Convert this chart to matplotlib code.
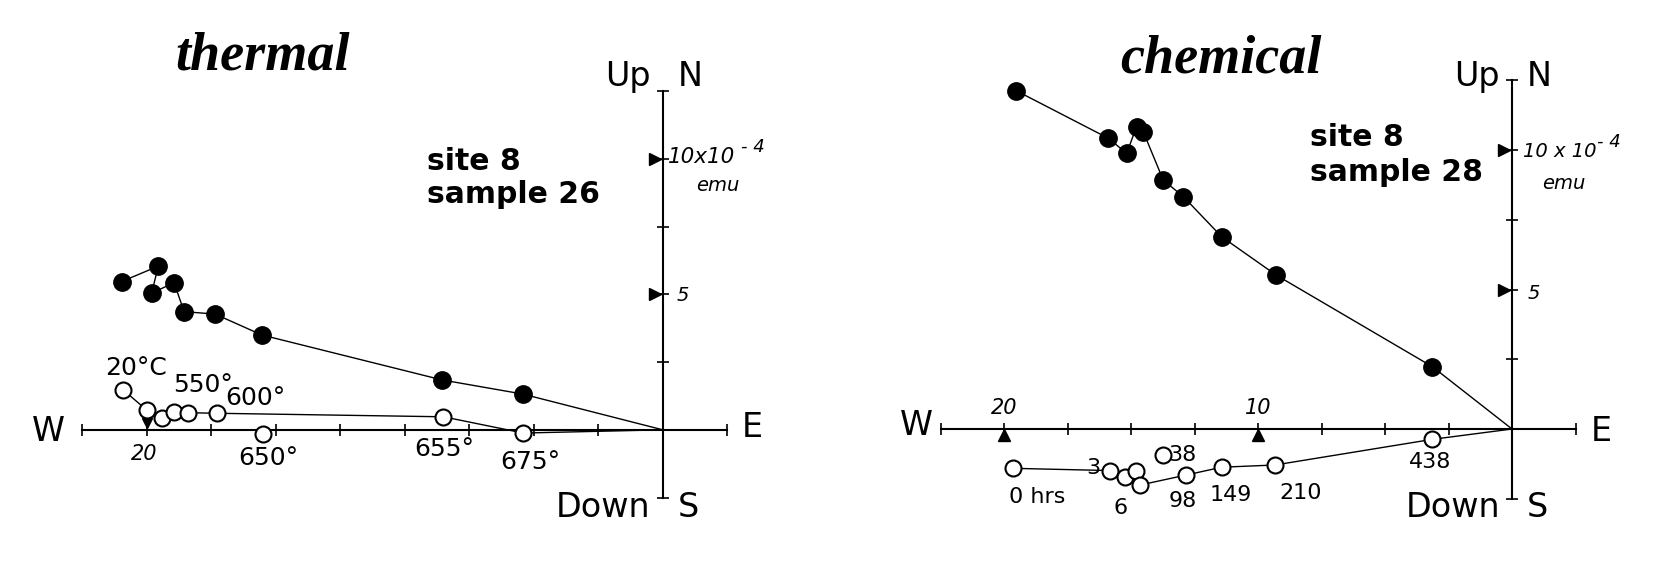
import matplotlib
matplotlib.use("Agg")
import matplotlib.pyplot as plt
import numpy as np

# ---------------- data (units of 1e-4 emu; x = E(+)/W(-), y = Up/N(+) , Down/S(-)) -------------
thermal_filled_x = [-20.97, -19.55, -19.81, -18.94, -18.55, -17.35, -15.54, -8.55, -5.43]
thermal_filled_y = [5.47, 6.04, 5.04, 5.43, 4.36, 4.27, 3.50, 1.84, 1.32]
thermal_open_x = [-20.91, -20.00, -19.42, -18.94, -18.39, -17.29, -15.48, -8.50, -5.40]
thermal_open_y = [1.47, 0.73, 0.42, 0.67, 0.63, 0.61, -0.15, 0.48, -0.12]
thermal_open_path = [0, 1, 2, 3, 4, 5, 7, 8]
thermal_temp_labels = ["20°C", "550°", "600°", "650°", "655°", "675°"]

chem_filled_x = [-19.53, -15.89, -15.17, -14.78, -14.52, -13.73, -12.94, -11.43, -9.29, -3.13]
chem_filled_y = [12.13, 10.42, 9.88, 10.84, 10.66, 8.92, 8.33, 6.89, 5.52, 2.23]
chem_open_x = [-19.63, -15.83, -15.24, -14.80, -14.65, -13.73, -12.83, -11.43, -9.33, -3.13]
chem_open_y = [-1.41, -1.49, -1.73, -1.51, -2.01, -0.93, -1.65, -1.37, -1.29, -0.37]
chem_open_path = [0, 1, 2, 3, 4, 6, 7, 8, 9]
chem_hour_labels = ["0 hrs", "3", "6", "38", "98", "149", "210", "438"]

x_ticks = np.arange(-22.5, 2.6, 2.5)
y_ticks = np.arange(-2.5, 12.6, 2.5)
scale_marks = [5, 10]

# ---------------- layout ----------------
W, H = 1676, 574
XLIM = (-25, 5)
YLIM = (-5, 15)
fig = plt.figure(figsize=(W / 100, H / 100), dpi=100)
fig.patch.set_facecolor("white")


def panel(ox, oy, sx, sy):
    left = ox + XLIM[0] * sx
    width = (XLIM[1] - XLIM[0]) * sx
    bottom_px = oy - YLIM[0] * sy
    height = (YLIM[1] - YLIM[0]) * sy
    ax = fig.add_axes([left / W, 1 - bottom_px / H, width / W, height / H])
    ax.set_xlim(XLIM)
    ax.set_ylim(YLIM)
    ax.axis("off")
    ax.patch.set_alpha(0)
    return ax


SANS = "DejaVu Sans"
TITLE_FONT = dict(family="Liberation Serif", weight="bold", style="italic", size=39)


def draw_axes(ax, up_y, down_y, w_pos, e_pos):
    ax.plot([x_ticks[0], x_ticks[-1]], [0, 0], color="k", lw=1.5, zorder=1)
    ax.plot([0, 0], [y_ticks[0], y_ticks[-1]], color="k", lw=1.5, zorder=1)
    ax.plot(x_ticks, np.zeros_like(x_ticks), "|", color="k", ms=9, mew=1.2, zorder=1)
    ax.plot(np.zeros_like(y_ticks), y_ticks, "_", color="k", ms=9, mew=1.2, zorder=1)
    # scale arrows on vertical axis
    ax.plot([-0.3] * len(scale_marks), scale_marks, ">", color="k", ms=8, zorder=2)
    ax.text(-0.47, up_y, "Up", ha="right", va="baseline", family=SANS, size=24)
    ax.text(0.6, up_y, "N", ha="left", va="baseline", family=SANS, size=24)
    ax.text(-0.47, down_y, "Down", ha="right", va="baseline", family=SANS, size=24)
    ax.text(0.6, down_y, "S", ha="left", va="baseline", family=SANS, size=24)
    ax.text(w_pos[0], w_pos[1], "W", ha="center", va="center", family=SANS, size=24)
    ax.text(e_pos[0], e_pos[1], "E", ha="center", va="center", family=SANS, size=24)


def draw_series(ax, fx, fy, ox_, oy_, open_path):
    ax.plot(list(fx) + [0], list(fy) + [0], color="k", lw=1.0, zorder=3)
    px = [ox_[i] for i in open_path] + [0]
    py = [oy_[i] for i in open_path] + [0]
    ax.plot(px, py, color="k", lw=1.0, zorder=3)
    ax.plot(fx, fy, "o", color="k", ms=12.5, zorder=4)
    ax.plot(ox_, oy_, "o", mfc="white", mec="k", mew=1.5, ms=11.5, zorder=5)


# ================= thermal =================
ax1 = panel(662.7, 429.8, 25.8, 27.1)
draw_axes(ax1, 12.68, -3.2, (-23.8, -0.08), (3.46, 0.07))
draw_series(ax1, thermal_filled_x, thermal_filled_y, thermal_open_x, thermal_open_y,
            thermal_open_path)
ax1.plot([-20], [0.25], "v", color="k", ms=7, zorder=2)
ax1.text(-15.49, 13.28, "thermal", ha="center", va="baseline", **TITLE_FONT)
ax1.text(-9.14, 10.44, "site 8", ha="left", va="top", family=SANS, weight="bold", size=21.5)
ax1.text(-9.14, 9.21, "sample 26", ha="left", va="top", family=SANS, weight="bold", size=21.5)
ax1.text(0.2, 10.05, "10x10", ha="left", va="center", family=SANS, style="italic", size=15.5)
ax1.text(3.05, 10.45, "- 4", ha="left", va="center", family=SANS, style="italic", size=13)
ax1.text(2.15, 9.03, "emu", ha="center", va="center", family=SANS, style="italic", size=14)
ax1.text(0.55, 4.97, "5", ha="left", va="center", family=SANS, style="italic", size=14)
ax1.text(-20.1, -0.9, "20", ha="center", va="center", family=SANS, style="italic", size=15)
thermal_label_pos = [(-20.41, 2.28), (-17.82, 1.65), (-15.80, 1.17),
                     (-15.30, -1.04), (-8.48, -0.71), (-5.14, -1.19)]
for lab, (lx, ly) in zip(thermal_temp_labels, thermal_label_pos):
    ax1.text(lx, ly, lab, ha="center", va="center", family=SANS, size=18, zorder=6)

# ================= chemical =================
ax2 = panel(1512, 429, 25.4, 27.9)
draw_axes(ax2, 12.29, -3.15, (-23.43, 0.14), (3.5, -0.1))
draw_series(ax2, chem_filled_x, chem_filled_y, chem_open_x, chem_open_y, chem_open_path)
ax2.plot([-20, -10], [-0.2, -0.2], "^", color="k", ms=8, zorder=2)
ax2.text(-20.0, 0.75, "20", ha="center", va="center", family=SANS, style="italic", size=15)
ax2.text(-10.0, 0.75, "10", ha="center", va="center", family=SANS, style="italic", size=15)
ax2.text(-11.46, 12.76, "chemical", ha="center", va="baseline", **TITLE_FONT)
ax2.text(-7.95, 10.97, "site 8", ha="left", va="top", family=SANS, weight="bold", size=21.5)
ax2.text(-7.95, 9.71, "sample 28", ha="left", va="top", family=SANS, weight="bold", size=21.5)
ax2.text(0.43, 9.96, "10 x 10", ha="left", va="center", family=SANS, style="italic", size=14)
ax2.text(3.35, 10.29, "- 4", ha="left", va="center", family=SANS, style="italic", size=13)
ax2.text(2.05, 8.8, "emu", ha="center", va="center", family=SANS, style="italic", size=14)
ax2.text(0.6, 4.87, "5", ha="left", va="center", family=SANS, style="italic", size=14)
chem_label_pos = [(-18.70, -2.44, "center"), (-16.50, -1.40, "center"),
                  (-15.43, -2.83, "center"), (-13.54, -0.93, "left"),
                  (-12.95, -2.58, "center"), (-11.06, -2.37, "center"),
                  (-8.31, -2.29, "center"), (-3.23, -1.18, "center")]
for lab, (lx, ly, ha) in zip(chem_hour_labels, chem_label_pos):
    ax2.text(lx, ly, lab, ha=ha, va="center", family=SANS, size=16, zorder=6)

fig.savefig("out.png", dpi=100, facecolor="white")
